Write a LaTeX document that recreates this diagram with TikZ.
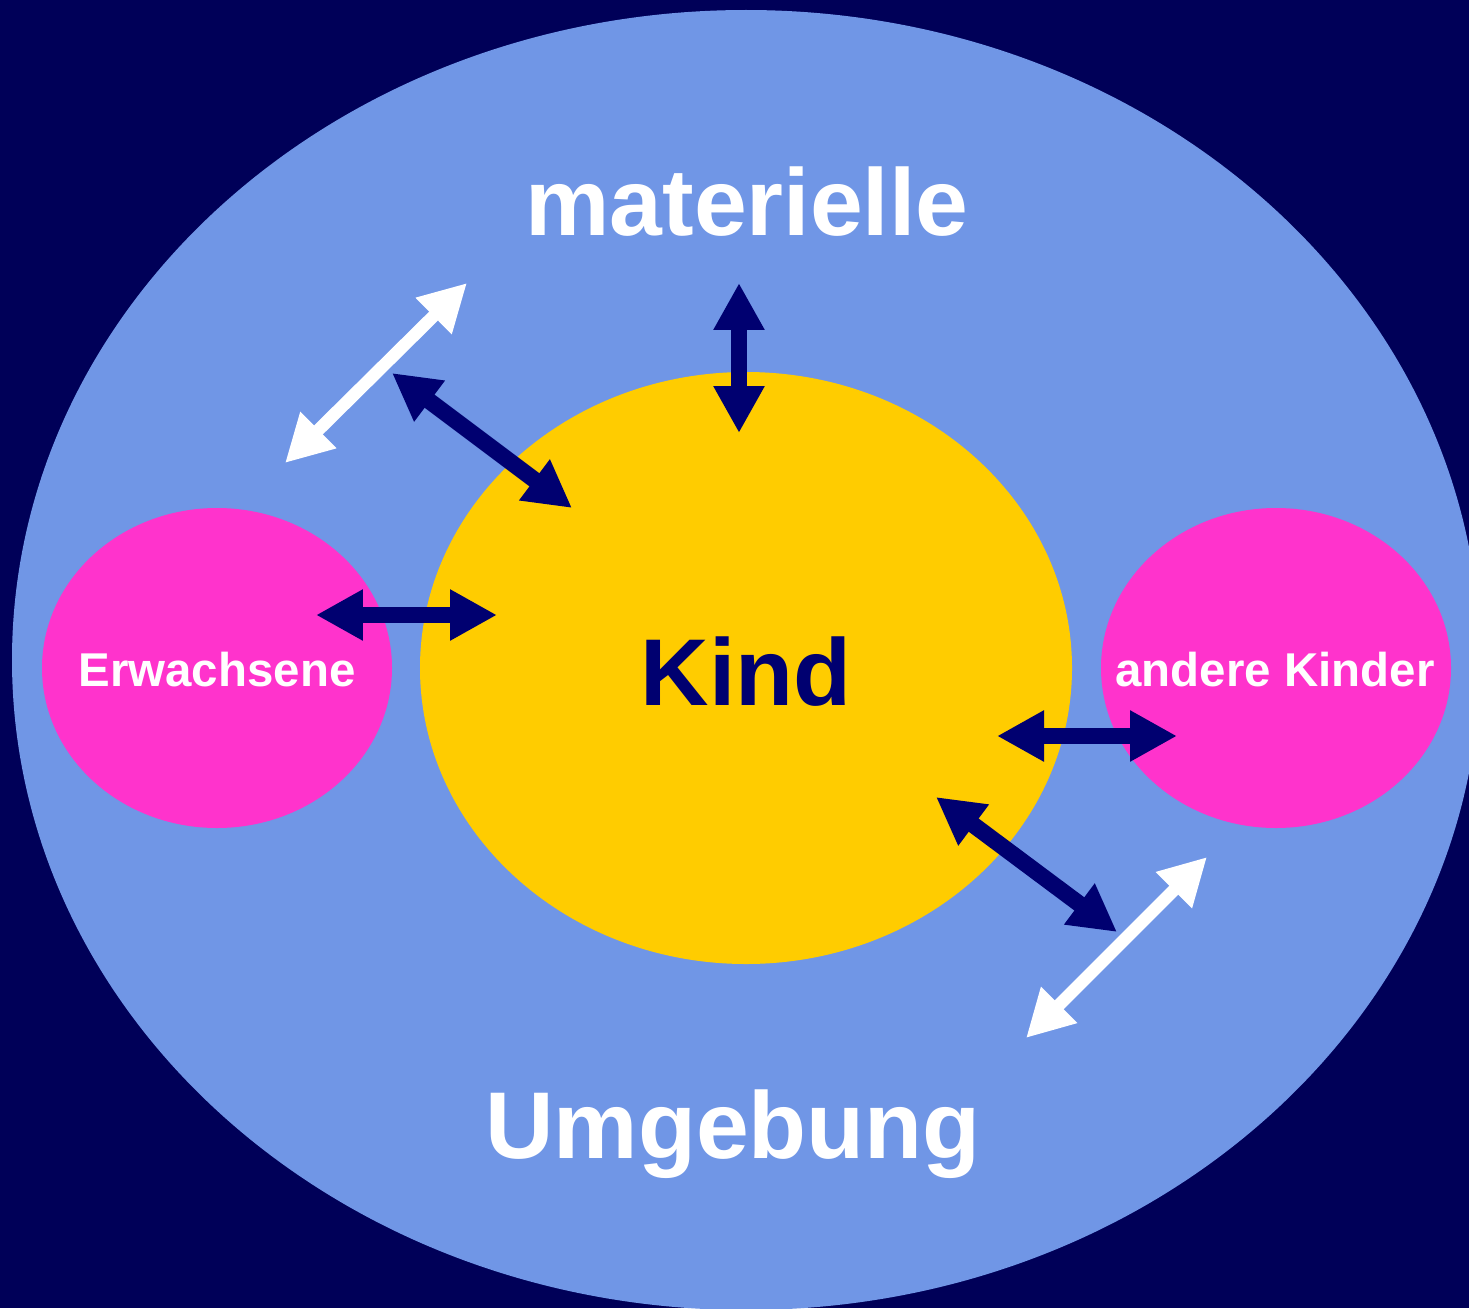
\documentclass[tikz,border=0pt]{standalone}
\usepackage{fontspec}
\setmainfont{Liberation Sans}
\usetikzlibrary{arrows.meta}
\definecolor{bgnavy}{RGB}{0,0,88}
\definecolor{arrownavy}{RGB}{0,0,112}
\definecolor{skyblue}{RGB}{112,150,230}
\definecolor{kindyellow}{RGB}{255,204,0}
\definecolor{pinkmag}{RGB}{255,51,204}
\tikzset{
  navyarrow/.style={draw=arrownavy, line width=0.33cm,
    {Triangle[length=0.94cm,width=0.96cm]}-{Triangle[length=0.94cm,width=0.96cm]}},
  whitearrow/.style={draw=white, line width=0.25cm,
    {Triangle[length=0.94cm,width=0.96cm]}-{Triangle[length=0.94cm,width=0.96cm]}},
  bigtext/.style={inner sep=0pt, anchor=base, font=\fontsize{54}{54}\selectfont\bfseries},
  smalltext/.style={inner sep=0pt, anchor=base, white, font=\fontsize{27}{27}\selectfont\bfseries}
}
\begin{document}
\begin{tikzpicture}[x=0.02cm, y=-0.02cm]
      \useasboundingbox (0,0) rectangle (1469,1308);
      \fill[bgnavy] (0,0) rectangle (1469,1308);
      \begin{scope}
        \clip (0,0) rectangle (1469,1308);
        \fill[skyblue] (746,660) ellipse (734 and 650);
      \end{scope}
      \fill[kindyellow] (746,668) ellipse (326 and 296);
      \fill[pinkmag] (217,668) ellipse (175 and 160);
      \fill[pinkmag] (1276,668) ellipse (175 and 160);
      % texts
      \node[bigtext, white] (materielle) at (747,235) {materielle};
      \node[bigtext, white] (umgebung) at (733,1158) {Umgebung};
      \node[bigtext, arrownavy] (kind) at (746,705) {Kind};
      \node[smalltext] (erwachsene) at (217,686) {Erwachsene};
      \node[smalltext] (anderekinder) at (1275,686) {andere Kinder};
      % arrow ends
      \coordinate (top1) at (739,283);
      \coordinate (top2) at (739,433);
      \coordinate (ul1) at (392,373);
      \coordinate (ul2) at (572,508);
      \coordinate (left1) at (316,615);
      \coordinate (left2) at (497,615);
      \coordinate (right1) at (997,736);
      \coordinate (right2) at (1177,736);
      \coordinate (lr1) at (936,797);
      \coordinate (lr2) at (1117,932);
      \coordinate (wul1) at (467,283);
      \coordinate (wul2) at (285,463);
      \coordinate (wlr1) at (1207,857);
      \coordinate (wlr2) at (1026,1038);
      % arrows
      \draw[navyarrow] (top1) -- (top2);
      \draw[navyarrow] (ul1) -- (ul2);
      \draw[navyarrow] (left1) -- (left2);
      \draw[navyarrow] (right1) -- (right2);
      \draw[navyarrow] (lr1) -- (lr2);
      \draw[whitearrow] (wul1) -- (wul2);
      \draw[whitearrow] (wlr1) -- (wlr2);
    \end{tikzpicture}
\end{document}
